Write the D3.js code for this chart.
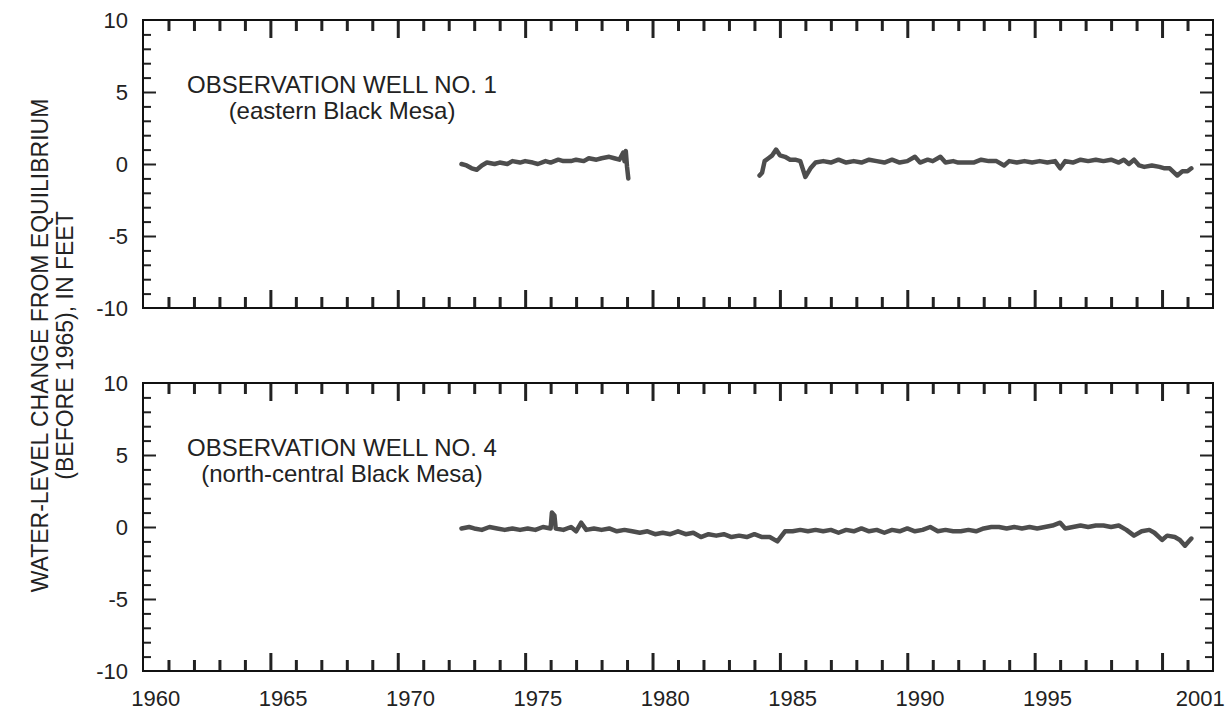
<!DOCTYPE html>
<html>
<head>
<meta charset="utf-8">
<script src="https://cdn.jsdelivr.net/npm/d3@7"></script>
<style>
  body { margin: 0; background: #fff; }
  svg { display: block; }
  text { font-family: "Liberation Sans", Arial, sans-serif; fill: #222; }
</style>
</head>
<body>
<svg width="1231" height="711"></svg>
<script>
const svgWidth = 1231;
const svgHeight = 711;

// year labels along the bottom (centred inside the year they name)
const yearLabels = [1960, 1965, 1970, 1975, 1980, 1985, 1990, 1995, 2001];
const yLabels = [-10, -5, 0, 5, 10];

// Observation well no. 1 (null = no record)
const well1Years = [1972.5, 1972.7, 1972.9, 1973.1, 1973.3, 1973.5, 1973.8, 1974.0, 1974.3, 1974.5,
    1974.8, 1975.0, 1975.3, 1975.5, 1975.8, 1976.0, 1976.3, 1976.5, 1976.8, 1977.0,
    1977.3, 1977.5, 1977.8, 1978.0, 1978.3, 1978.5, 1978.7, 1978.85, 1978.9, 1978.95,
    1979.0, 1979.05, 1981.5,
    1984.2, 1984.3, 1984.4, 1984.55, 1984.7, 1984.85, 1985.0, 1985.2, 1985.4, 1985.6,
    1985.8, 1986.0, 1986.2, 1986.4, 1986.7, 1987.0, 1987.3, 1987.6, 1987.9, 1988.2,
    1988.5, 1988.8, 1989.1, 1989.4, 1989.7, 1990.0, 1990.3, 1990.5, 1990.8, 1991.0,
    1991.3, 1991.5, 1991.8, 1992.0, 1992.3, 1992.6, 1992.9, 1993.2, 1993.5, 1993.8,
    1994.0, 1994.3, 1994.6, 1994.9, 1995.2, 1995.5, 1995.8, 1996.0, 1996.2, 1996.5,
    1996.8, 1997.1, 1997.4, 1997.7, 1998.0, 1998.3, 1998.5, 1998.7, 1998.9, 1999.1,
    1999.3, 1999.6, 1999.9, 2000.1, 2000.3, 2000.6, 2000.8, 2001.0, 2001.15];
const well1Values = [0.0, -0.1, -0.3, -0.4, -0.1, 0.1, 0.0, 0.1, 0.0, 0.2,
    0.1, 0.2, 0.1, 0.0, 0.2, 0.1, 0.3, 0.2, 0.2, 0.3,
    0.2, 0.4, 0.3, 0.4, 0.5, 0.4, 0.3, 0.8, 0.2, 0.9,
    -0.2, -1.0, null,
    -0.8, -0.6, 0.2, 0.4, 0.6, 1.0, 0.6, 0.5, 0.3, 0.3,
    0.2, -0.9, -0.3, 0.1, 0.2, 0.1, 0.3, 0.1, 0.2, 0.1,
    0.3, 0.2, 0.1, 0.3, 0.1, 0.2, 0.5, 0.1, 0.3, 0.2,
    0.5, 0.1, 0.2, 0.1, 0.1, 0.1, 0.3, 0.2, 0.2, -0.1,
    0.2, 0.1, 0.2, 0.1, 0.2, 0.1, 0.2, -0.3, 0.2, 0.1,
    0.3, 0.2, 0.3, 0.2, 0.3, 0.1, 0.3, 0.0, 0.3, -0.1,
    -0.2, -0.1, -0.2, -0.3, -0.3, -0.8, -0.5, -0.5, -0.3];

// Observation well no. 4
const well4Years = [1972.5, 1972.8, 1973.0, 1973.3, 1973.6, 1973.9, 1974.2, 1974.5, 1974.8, 1975.1,
    1975.4, 1975.7, 1976.0, 1976.05, 1976.15, 1976.2, 1976.5, 1976.8, 1977.0, 1977.2,
    1977.4, 1977.7, 1978.0, 1978.3, 1978.6, 1978.9, 1979.2, 1979.5, 1979.8, 1980.1,
    1980.4, 1980.7, 1981.0, 1981.3, 1981.6, 1981.9, 1982.2, 1982.5, 1982.8, 1983.1,
    1983.4, 1983.7, 1984.0, 1984.3, 1984.6, 1984.9, 1985.2, 1985.5, 1985.8, 1986.1,
    1986.4, 1986.7, 1987.0, 1987.3, 1987.6, 1987.9, 1988.2, 1988.5, 1988.8, 1989.1,
    1989.4, 1989.7, 1990.0, 1990.3, 1990.6, 1990.9, 1991.2, 1991.5, 1991.8, 1992.1,
    1992.4, 1992.7, 1993.0, 1993.3, 1993.6, 1993.9, 1994.2, 1994.5, 1994.8, 1995.1,
    1995.4, 1995.7, 1996.0, 1996.2, 1996.5, 1996.8, 1997.1, 1997.4, 1997.7, 1998.0,
    1998.3, 1998.6, 1998.9, 1999.2, 1999.5, 1999.7, 2000.0, 2000.2, 2000.5, 2000.7,
    2000.9, 2001.0, 2001.15];
const well4Values = [-0.1, 0.0, -0.1, -0.2, 0.0, -0.1, -0.2, -0.1, -0.2, -0.1,
    -0.2, 0.0, -0.1, 1.0, 0.8, -0.1, -0.2, 0.0, -0.3, 0.3,
    -0.2, -0.1, -0.2, -0.1, -0.3, -0.2, -0.3, -0.4, -0.3, -0.5,
    -0.4, -0.5, -0.3, -0.5, -0.4, -0.7, -0.5, -0.6, -0.5, -0.7,
    -0.6, -0.7, -0.5, -0.7, -0.7, -1.0, -0.3, -0.3, -0.2, -0.3,
    -0.2, -0.3, -0.2, -0.4, -0.2, -0.3, -0.1, -0.3, -0.2, -0.4,
    -0.2, -0.3, -0.1, -0.3, -0.2, 0.0, -0.3, -0.2, -0.3, -0.3,
    -0.2, -0.3, -0.1, 0.0, 0.0, -0.1, 0.0, -0.1, 0.0, -0.1,
    0.0, 0.1, 0.3, -0.1, 0.0, 0.1, 0.0, 0.1, 0.1, 0.0,
    0.1, -0.2, -0.6, -0.3, -0.2, -0.4, -0.9, -0.6, -0.7, -0.9,
    -1.3, -1.1, -0.8];

const panels = [
    { top: 20, bottom: 308, years: well1Years, values: well1Values,
      title: "OBSERVATION WELL NO. 1", sub: "(eastern Black Mesa)", labels: false },
    { top: 383, bottom: 671, years: well4Years, values: well4Values,
      title: "OBSERVATION WELL NO. 4", sub: "(north-central Black Mesa)", labels: true }
];

const left = 143, right = 1213;

const xScale = d3.scaleLinear()
    .domain([1960, 2002])
    .range([left, right]);

const svg = d3.select("svg");

const minorYears = d3.range(1961, 2002).filter(y => y % 5 !== 0);
const majorYears = d3.range(1965, 2001, 5);
const minorFeet = d3.range(-9, 10).filter(v => v % 5 !== 0);
const majorFeet = [-5, 0, 5];

panels.forEach(p => {
    const yScale = d3.scaleLinear()
        .domain([-10, 10])
        .range([p.bottom, p.top]);

    const g = svg.append("g");

    // tick marks pointing inward on all four sides
    const addAxis = (axis, tx, ty, width) => {
        const a = g.append("g")
            .attr("transform", `translate(${tx},${ty})`)
            .call(axis);
        a.select(".domain").remove();
        a.selectAll("line").attr("stroke", "#222").attr("stroke-width", width);
        a.selectAll("text").remove();
    };
    [[minorYears, 11], [majorYears, 18]].forEach(([vals, len]) => {
        addAxis(d3.axisBottom(xScale).tickValues(vals).tickSize(-len), 0, p.bottom, 3);
        addAxis(d3.axisTop(xScale).tickValues(vals).tickSize(-len), 0, p.top, 3);
    });
    [[minorFeet, 8], [majorFeet, 13]].forEach(([vals, len]) => {
        addAxis(d3.axisLeft(yScale).tickValues(vals).tickSize(-len), left, 0, 2);
        addAxis(d3.axisRight(yScale).tickValues(vals).tickSize(-len), right, 0, 2);
    });

    // frame
    g.append("rect")
        .attr("x", left)
        .attr("y", p.top)
        .attr("width", right - left)
        .attr("height", p.bottom - p.top)
        .attr("fill", "none")
        .attr("stroke", "#111")
        .attr("stroke-width", 2);

    // y labels
    g.selectAll(".ylab")
        .data(yLabels)
        .enter().append("text")
        .attr("x", left - 15)
        .attr("y", d => yScale(d))
        .attr("dy", "0.36em")
        .attr("text-anchor", "end")
        .style("font-size", "22px")
        .text(d => String(d));

    if (p.labels) {
        g.selectAll(".xlab")
            .data(yearLabels)
            .enter().append("text")
            .attr("x", d => xScale(d + 0.5))
            .attr("y", 706)
            .attr("text-anchor", "middle")
            .style("font-size", "22px")
            .text(d => d);
    }

    // well name
    g.append("text")
        .attr("x", 342)
        .attr("y", p.top + 73)
        .attr("text-anchor", "middle")
        .style("font-size", "24px")
        .text(p.title);
    g.append("text")
        .attr("x", 342)
        .attr("y", p.top + 99)
        .attr("text-anchor", "middle")
        .style("font-size", "24px")
        .text(p.sub);

    // hydrograph
    const pts = p.years.map((yr, i) => ({ year: yr, value: p.values[i] }));
    const line = d3.line()
        .defined(d => d.value !== null)
        .x(d => xScale(d.year))
        .y(d => yScale(d.value));
    g.append("path")
        .datum(pts)
        .attr("d", line)
        .attr("fill", "none")
        .attr("stroke", "#4d4d4d")
        .attr("stroke-width", 4.5)
        .attr("stroke-linejoin", "round")
        .attr("stroke-linecap", "round");
});

// shared y axis title
const midY = (20 + 671) / 2;
svg.append("text")
    .attr("transform", `translate(40,${midY}) rotate(-90)`)
    .attr("text-anchor", "middle")
    .attr("dy", "0.36em")
    .style("font-size", "23px")
    .text("WATER-LEVEL CHANGE FROM EQUILIBRIUM");
svg.append("text")
    .attr("transform", `translate(65,${midY}) rotate(-90)`)
    .attr("text-anchor", "middle")
    .attr("dy", "0.36em")
    .style("font-size", "23px")
    .text("(BEFORE 1965), IN FEET");
</script>
</body>
</html>
